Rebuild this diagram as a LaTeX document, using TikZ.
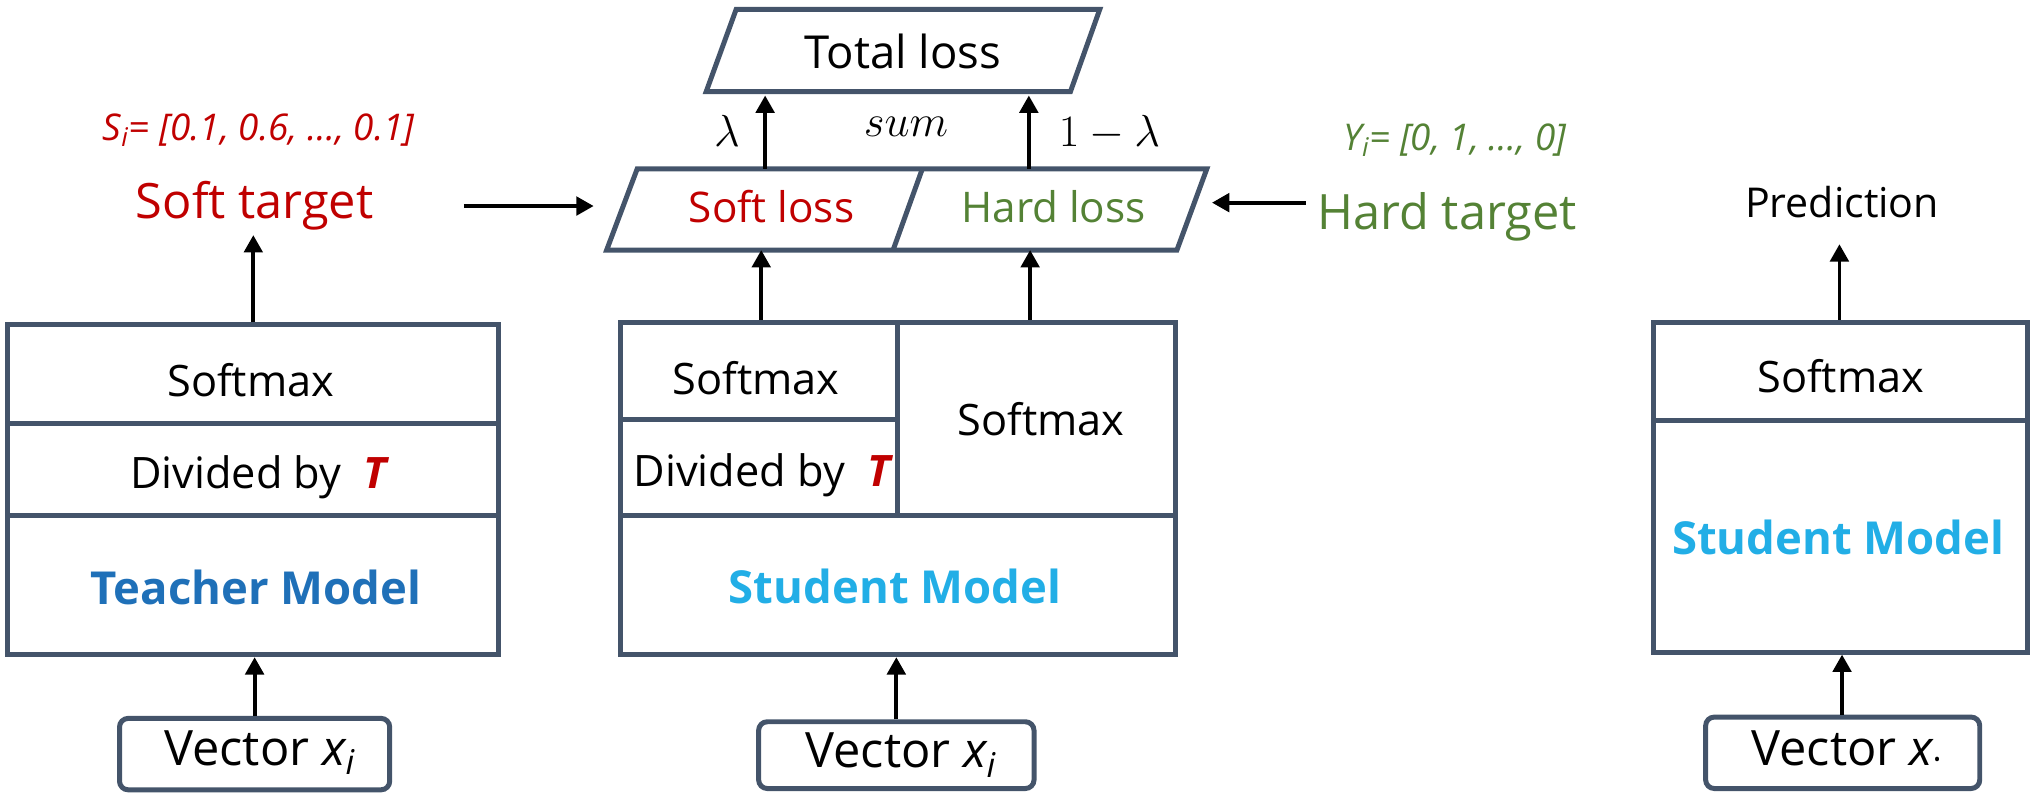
\documentclass[tikz,border=0pt]{standalone}
\usepackage{fontspec}
\setmainfont{Open Sans}
\usetikzlibrary{arrows.meta,fit,calc}
\definecolor{cred}{HTML}{C00000}
\definecolor{cgreen}{HTML}{548235}
\definecolor{cteach}{HTML}{1F70B8}
\definecolor{cstud}{HTML}{22AEE6}
\definecolor{cborder}{HTML}{44546A}
\tikzset{
  cell/.style={draw=cborder, line width=2.3pt, inner sep=0pt},
  vecbox/.style={draw=cborder, line width=2.3pt, rounded corners=4pt, inner sep=0pt},
  arr/.style={-{Triangle[length=8pt,width=8.5pt]}, line width=1.8pt, black},
  tx/.style={anchor=base, inner sep=0pt, font=\fontsize{20}{24}\selectfont},
  big/.style={anchor=base, inner sep=0pt, font=\fontsize{22.5}{27}\selectfont},
  model/.style={anchor=base, inner sep=0pt, font=\fontsize{21}{25}\selectfont\bfseries},
  small/.style={anchor=base, inner sep=0pt, font=\fontsize{17}{20}\selectfont\itshape},
  mth/.style={anchor=base, inner sep=0pt, font=\fontsize{21.5}{25}\selectfont},
}
\newcommand{\redT}{{\bfseries\itshape\color{cred}T}}
\begin{document}
\begin{tikzpicture}[x=0.6pt,y=-0.6pt]
\useasboundingbox (0,0) rectangle (1568.1,613.5);

% ---------- Teacher column ----------
\node[cell, fit={(6,250)(384,326)}] (tsoft) {};
\node[cell, fit={(6,326)(384,397)}] (tdiv) {};
\node[cell, fit={(6,397)(384,504)}] (tmodel) {};
\node[tx] (tsoftT) at (193,305) {Softmax};
\node[tx] (tdivT) at (199,376) {Divided by \ \redT};
\node[model, text=cteach] (tmodelT) at (197,465) {Teacher Model};
\node[vecbox, fit={(92,553)(300,608)}] (tvec) {};
\node[big] (tvecT) at (200,589) {Vector {\itshape x}\textsubscript{\itshape i}};

\node[big, text=cred] (softtarget) at (196,168) {Soft target};
\node[small, text=cred] (si) at (199,108) {S\textsubscript{i}= [0.1, 0.6, …, 0.1]};

\draw[arr] (tvec.north -| 196,0) -- (tmodel.south -| 196,0);
\draw[arr] (tsoft.north -| 195,0) -- (195,181) coordinate (stBot);

% ---------- Loss parallelograms ----------
\coordinate (L1) at (566.7,7.2);
\coordinate (L2) at (846.6,7.2);
\coordinate (L3) at (824,70.6);
\coordinate (L4) at (543.6,70.6);
\draw[cborder, line width=2.3pt, line join=miter] (L1) -- (L2) -- (L3) -- (L4) -- cycle;
\node[tx, font=\fontsize{21}{25}\selectfont] (total) at (695,52.6) {Total loss};

\coordinate (P1) at (490.5,130);
\coordinate (P2) at (929,130);
\coordinate (P3) at (906,192.5);
\coordinate (P4) at (467,192.5);
\coordinate (D1) at (710,130);
\coordinate (D2) at (687.5,192.5);
\draw[cborder, line width=2.3pt, line join=miter] (P1) -- (P2) -- (P3) -- (P4) -- cycle;
\draw[cborder, line width=2.3pt] (D1) -- (D2);
\node[tx, font=\fontsize{19.5}{23}\selectfont, text=cred] (softloss) at (594,171.4) {Soft loss};
\node[tx, font=\fontsize{19.5}{23}\selectfont, text=cgreen] (hardloss) at (811,171.4) {Hard loss};

\node[mth] (lam) at (559.6,113) {$\lambda$};
\node[mth] (sum) at (697.5,105) {$sum$};
\node[mth] (oml) at (854,113) {$1-\lambda$};

\coordinate (softTop) at (589,130);
\coordinate (hardTop) at (792,130);
\draw[arr] (softTop) -- (589,73.5) coordinate (totA);
\draw[arr] (hardTop) -- (792,73.5) coordinate (totB);

\coordinate (stArrS) at (357,158.6);
\coordinate (stArrE) at (457,158.6);
\draw[arr] (stArrS) -- (stArrE);

\node[big, text=cgreen] (hardtarget) at (1114,176.5) {Hard target};
\node[small, text=cgreen] (yi) at (1120,116) {Y\textsubscript{i}= [0, 1, …, 0]};
\coordinate (htArrS) at (1005,156);
\coordinate (htArrE) at (933,156);
\draw[arr] (htArrS) -- (htArrE);

% ---------- Student column (middle) ----------
\node[cell, fit={(478,248)(691,323)}] (ssoft) {};
\node[cell, fit={(478,323)(691,397)}] (sdiv) {};
\node[cell, fit={(691,248)(905,397)}] (ssoft2) {};
\node[cell, fit={(478,397)(905,504)}] (smodel) {};
\node[tx] (ssoftT) at (582,304) {Softmax};
\node[tx] (sdivT) at (586.7,374.6) {Divided by \ \redT};
\node[tx] (ssoft2T) at (801.5,335) {Softmax};
\node[model, text=cstud] (smodelT) at (689,464.4) {Student Model};
\node[vecbox, fit={(584,555.6)(796,607)}] (svec) {};
\node[big] (svecT) at (693.5,591) {Vector {\itshape x}\textsubscript{\itshape i}};

\draw[arr] (ssoft.north -| 586,0) -- (P4 -| 586,0);
\draw[arr] (ssoft2.north -| 793,0) -- (P4 -| 793,0);
\draw[arr] (svec.north -| 690,0) -- (smodel.south -| 690,0);

% ---------- Right column ----------
\node[cell, fit={(1273,248)(1561,324)}] (rsoft) {};
\node[cell, fit={(1273,324)(1561,502)}] (rmodel) {};
\node[tx] (rsoftT) at (1417,302) {Softmax};
\node[model, text=cstud] (rmodelT) at (1415,427) {Student Model};
\node[tx, font=\fontsize{19}{23}\selectfont] (pred) at (1418,167.8) {Prediction};
\node[vecbox, fit={(1313,552)(1524,607)}] (rvec) {};
\node[big] (rvecT) at (1422,589) {Vector {\itshape x}\textsubscript{·}};

\draw[arr] (rvec.north -| 1418,0) -- (rmodel.south -| 1418,0);
\draw[arr] (rsoft.north -| 1416,0) -- (1416,188) coordinate (predBot);
\end{tikzpicture}
\end{document}
